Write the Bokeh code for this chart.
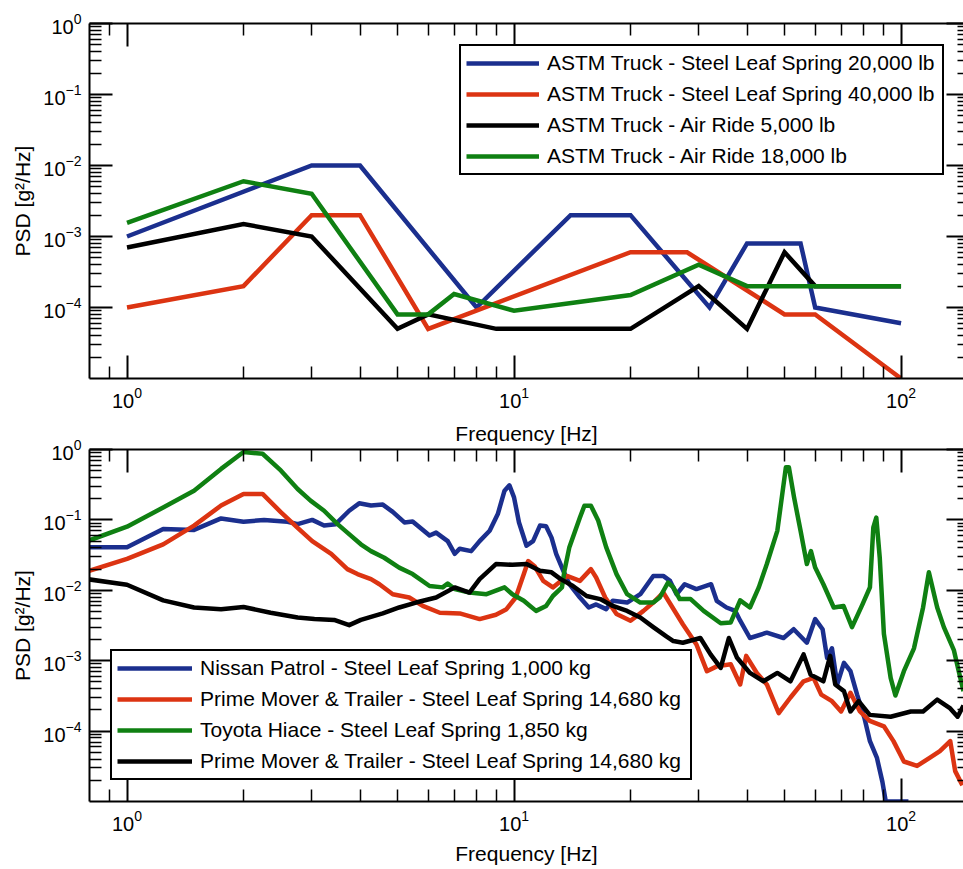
from bokeh.plotting import figure
from bokeh.models import (Range1d, FixedTicker, LogAxis, Legend, LegendItem,
                          CustomJSTickFormatter, Title)
from bokeh.layouts import column
from bokeh.embed import file_html
from bokeh.resources import INLINE

# ---------------- axis configuration ----------------
X_START, X_END = 0.8, 145
Y_START, Y_END = 1e-5, 1
X_MAJOR = [1, 10, 100]
X_MINOR = [0.9, 2, 3, 4, 5, 6, 7, 8, 9, 20, 30, 40, 50, 60, 70, 80, 90]
Y_MAJOR = [1e-4, 1e-3, 1e-2, 1e-1, 1]
Y_MINOR = [m * 10.0 ** e for e in range(-5, 0) for m in range(2, 10)]
X_LABEL = "Frequency [Hz]"
Y_LABEL = "PSD [g\u00b2/Hz]"

# ---------------- top panel: ASTM truck spectra ----------------
astm_names = ["ASTM Truck - Steel Leaf Spring 20,000 lb",
              "ASTM Truck - Steel Leaf Spring 40,000 lb",
              "ASTM Truck - Air Ride 5,000 lb",
              "ASTM Truck - Air Ride 18,000 lb"]
astm_sl20_f = [1, 3, 4, 8, 14, 20, 32, 40, 55, 60, 100]
astm_sl20_psd = [1e-3, 1e-2, 1e-2, 1e-4, 2e-3, 2e-3, 1e-4, 8e-4, 8e-4, 1e-4, 6e-5]
astm_sl40_f = [1, 2, 3, 4, 6, 20, 28, 50, 60, 100]
astm_sl40_psd = [1e-4, 2e-4, 2e-3, 2e-3, 5e-5, 6e-4, 6e-4, 8e-5, 8e-5, 1e-5]
astm_ar5_f = [1, 2, 3, 5, 6, 9, 20, 30, 40, 50, 60, 100]
astm_ar5_psd = [7e-4, 1.5e-3, 1e-3, 5e-5, 8e-5, 5e-5, 5e-5, 2e-4, 5e-5, 6e-4, 2e-4, 2e-4]
astm_ar18_f = [1, 2, 3, 5, 6, 7, 10, 20, 30, 40, 100]
astm_ar18_psd = [1.55e-3, 6e-3, 4e-3, 8e-5, 8e-5, 1.55e-4, 9e-5, 1.5e-4, 4e-4, 2e-4, 2e-4]

# ---------------- bottom panel: measured vehicle spectra ----------------
veh_names = ["Nissan Patrol - Steel Leaf Spring 1,000 kg",
             "Prime Mover & Trailer - Steel Leaf Spring 14,680 kg",
             "Toyota Hiace - Steel Leaf Spring 1,850 kg",
             "Prime Mover & Trailer - Steel Leaf Spring 14,680 kg"]

nissan_f = [0.79, 1.0, 1.24, 1.49, 1.75, 2.0, 2.26, 2.6, 2.76, 3.01, 3.23, 3.46, 3.75,
            3.98, 4.27, 4.58, 4.86, 5.21, 5.47, 6.05, 6.29, 6.74, 7.03, 7.24, 7.75, 8.15,
            8.65, 9.08, 9.45, 9.73, 10.0, 10.3, 10.77, 11.2, 11.67, 12.1, 12.5, 12.85,
            13.4, 13.9, 14.8, 15.6, 16.3, 17.3, 18.0, 19.6, 21.2, 22.9, 24.3, 25.3, 26.3,
            27.6, 29.6, 32.3, 33.4, 35.4, 37.3, 38.4, 40.7, 45.0, 49.7, 52.8, 57.1, 60.0,
            62.7, 64.4, 66.3, 68.4, 71.2, 74.0, 77.0, 80.4, 83.1, 86.6, 89.5, 91.3, 104.5]
nissan_psd = [0.041, 0.041, 0.074, 0.072, 0.105, 0.094, 0.1, 0.094, 0.087, 0.1, 0.083,
              0.087, 0.135, 0.172, 0.16, 0.165, 0.13, 0.092, 0.095, 0.06, 0.066, 0.05,
              0.033, 0.039, 0.036, 0.05, 0.07, 0.121, 0.26, 0.31, 0.209, 0.092, 0.043,
              0.05, 0.083, 0.081, 0.056, 0.033, 0.019, 0.0122, 0.0079, 0.0057, 0.0063,
              0.0054, 0.0071, 0.0067, 0.0088, 0.016, 0.016, 0.0136, 0.0088, 0.0122,
              0.0104, 0.0122, 0.0071, 0.0057, 0.0051, 0.0037, 0.0021, 0.0025, 0.0021,
              0.0028, 0.0018, 0.0039, 0.0028, 0.0011, 0.0015, 4.6e-4, 9.3e-4, 7.1e-4,
              3.3e-4, 1.55e-4, 7.2e-5, 4.2e-5, 1.9e-5, 1e-5, 1e-5]

prime1_f = [0.79, 1.0, 1.24, 1.49, 1.75, 2.0, 2.24, 2.5, 2.76, 3.01, 3.37, 3.71, 3.94,
            4.27, 4.49, 4.86, 5.36, 5.81, 6.43, 7.24, 8.15, 8.98, 9.56, 10.1, 10.6, 10.88,
            11.3, 11.9, 12.6, 13.7, 14.8, 15.8, 16.3, 17.2, 18.4, 20.0, 21.6, 22.9, 24.3,
            25.3, 27.3, 29.6, 31.5, 33.4, 36.3, 38.4, 39.8, 42.4, 45.0, 48.3, 51.8, 56.0,
            59.4, 62.2, 66.3, 70.0, 74.0, 78.3, 83.0, 90.3, 95.6, 101.7, 110, 118.8, 126,
            134, 138, 144]
prime1_psd = [0.0185, 0.028, 0.045, 0.083, 0.16, 0.234, 0.234, 0.128, 0.077, 0.05, 0.033,
              0.020, 0.017, 0.0144, 0.0122, 0.0088, 0.0079, 0.006, 0.0048, 0.0047, 0.0039,
              0.0045, 0.0054, 0.0079, 0.017, 0.026, 0.022, 0.0136, 0.011, 0.016, 0.0136,
              0.02, 0.0152, 0.0079, 0.0046, 0.0037, 0.0051, 0.0067, 0.0093, 0.0065, 0.0033,
              0.0017, 7.1e-4, 8.3e-4, 8.9e-4, 4.6e-4, 1.17e-3, 6.7e-4, 4.6e-4, 1.8e-4,
              3e-4, 5.1e-4, 5.7e-4, 3.3e-4, 2.66e-4, 1.9e-4, 3.5e-4, 1.9e-4, 1.4e-4,
              1.17e-4, 7.2e-5, 3.7e-5, 3.2e-5, 4.2e-5, 5.2e-5, 7.2e-5, 2.7e-5, 1.7e-5]

hiace_f = [0.79, 1.0, 1.24, 1.49, 1.75, 2.0, 2.24, 2.5, 2.76, 2.98, 3.23, 3.5, 3.71, 4.02,
           4.27, 4.62, 5.05, 5.47, 6.05, 6.54, 6.74, 7.03, 7.67, 8.49, 9.45, 9.9, 10.6,
           11.0, 11.4, 12.1, 12.6, 13.3, 13.5, 13.9, 14.8, 15.2, 15.8, 16.5, 17.3, 18.4,
           19.6, 21.2, 22.9, 23.8, 25.0, 25.8, 26.8, 28.6, 30.9, 34.2, 36.3, 38.4, 40.7,
           42.9, 45.0, 47.9, 50.4, 51.3, 52.9, 55.0, 57.1, 58.5, 60.0, 63.0, 67.0, 71.0,
           74.7, 79.5, 83.1, 84.8, 86.3, 88.1, 90.3, 94.0, 96.7, 101.7, 108, 114, 118,
           124, 129, 137, 141, 145]
hiace_psd = [0.05, 0.08, 0.15, 0.26, 0.53, 0.92, 0.87, 0.50, 0.275, 0.188, 0.135, 0.087,
             0.066, 0.045, 0.036, 0.029, 0.021, 0.017, 0.0115, 0.011, 0.0125, 0.0104,
             0.0093, 0.0088, 0.011, 0.0088, 0.0071, 0.006, 0.0051, 0.006, 0.0083, 0.011,
             0.019, 0.041, 0.108, 0.159, 0.159, 0.098, 0.041, 0.017, 0.0088, 0.0067,
             0.0067, 0.0079, 0.0129, 0.011, 0.0075, 0.0075, 0.0051, 0.0034, 0.0035,
             0.0072, 0.0057, 0.011, 0.0236, 0.07, 0.56, 0.56, 0.21, 0.07, 0.0236, 0.036,
             0.021, 0.0122, 0.0057, 0.006, 0.003, 0.0063, 0.011, 0.078, 0.108, 0.029,
             0.0024, 5.7e-4, 3.2e-4, 7.1e-4, 1.5e-3, 0.0057, 0.018, 0.0057, 0.003,
             1.4e-3, 7e-4, 3.7e-4]

prime2_f = [0.79, 1.0, 1.24, 1.49, 1.75, 2.0, 2.35, 2.76, 3.05, 3.43, 3.75, 4.02, 4.27,
            4.58, 5.05, 5.58, 6.29, 7.03, 7.67, 8.15, 8.98, 9.9, 10.77, 11.67, 12.5, 13.2,
            14.2, 15.4, 16.7, 18.0, 19.6, 21.2, 22.9, 24.8, 25.8, 27.3, 30.3, 32.2, 34.2,
            35.9, 37.7, 40.7, 44.1, 47.9, 51.8, 56.0, 58.4, 63.0, 65.6, 67.6, 71.2, 74.0,
            77.7, 83.0, 94.0, 106, 114, 124, 134, 140, 145]
prime2_psd = [0.0144, 0.012, 0.0072, 0.0057, 0.0054, 0.0058, 0.0048, 0.0041, 0.0039,
              0.0038, 0.0032, 0.0038, 0.0042, 0.0047, 0.0057, 0.0067, 0.0079, 0.011,
              0.0093, 0.0144, 0.0236, 0.023, 0.0236, 0.019, 0.018, 0.0144, 0.0115, 0.0083,
              0.0075, 0.006, 0.0051, 0.0041, 0.0030, 0.0022, 0.0019, 0.0018, 0.0021,
              1.23e-3, 7.9e-4, 0.0021, 1.1e-3, 6.7e-4, 5.1e-4, 6.7e-4, 5.1e-4, 1.23e-3,
              6.3e-4, 5.1e-4, 1.17e-3, 4.6e-4, 3.7e-4, 1.9e-4, 2.66e-4, 1.7e-4, 1.6e-4,
              1.9e-4, 1.9e-4, 2.8e-4, 2.1e-4, 1.6e-4, 2.3e-4]

BLUE = "#1b2f8e"
RED = "#dc3412"
GREEN = "#0f8012"
BLACK = "#000000"
FONT = "Liberation Sans"


def style_axis(ax, labels=True):
    ax.axis_line_width = 2
    ax.axis_line_color = "black"
    ax.major_tick_in = 23
    ax.major_tick_out = 0
    ax.minor_tick_in = 12
    ax.minor_tick_out = 0
    ax.major_tick_line_width = 2
    ax.minor_tick_line_width = 1.5
    ax.major_tick_line_color = "black"
    ax.minor_tick_line_color = "black"
    if labels:
        ax.major_label_text_font = FONT
        ax.major_label_text_font_size = "20px"
        ax.major_label_text_color = "black"
        ax.axis_label_text_font = FONT
        ax.axis_label_text_font_size = "21px"
        ax.axis_label_text_font_style = "normal"
        ax.axis_label_text_color = "black"
    else:
        ax.formatter = CustomJSTickFormatter(code="return ''")
        ax.major_label_text_font_size = "1px"
        ax.major_label_standoff = 0


def make_fig(top_border, frame_h, bottom_border, xlabel):
    p = figure(x_axis_type="log", y_axis_type="log",
               x_range=Range1d(X_START, X_END), y_range=Range1d(Y_START, Y_END),
               frame_width=874, frame_height=frame_h,
               min_border_left=89, min_border_right=0,
               min_border_top=top_border, min_border_bottom=bottom_border,
               output_backend="svg", toolbar_location=None,
               background_fill_color="white", border_fill_color="white",
               outline_line_color=None)
    p.xgrid.visible = False
    p.ygrid.visible = False
    xt = FixedTicker(ticks=X_MAJOR, minor_ticks=X_MINOR)
    yt = FixedTicker(ticks=Y_MAJOR, minor_ticks=Y_MINOR)
    xa = p.xaxis[0]
    ya = p.yaxis[0]
    xa.ticker = xt
    ya.ticker = yt
    style_axis(xa)
    style_axis(ya)
    if xlabel:
        xa.axis_label = X_LABEL
    ya.axis_label = Y_LABEL
    xa.major_label_standoff = 8
    ya.major_label_standoff = 8
    xa.axis_label_standoff = 8
    ya.axis_label_standoff = 6
    top = LogAxis(ticker=xt)
    style_axis(top, labels=False)
    p.add_layout(top, "above")
    right = LogAxis(ticker=yt)
    style_axis(right, labels=False)
    right.axis_line_color = None
    right.major_tick_in = 17
    right.minor_tick_in = 6
    p.add_layout(right, "right")
    return p


def add_legend(p, items, loc, gw, lw):
    lg = Legend(items=items, location=loc,
                border_line_color="black", border_line_width=2, border_line_alpha=1.0,
                background_fill_color="white", background_fill_alpha=1.0,
                label_text_font=FONT, label_text_font_size="21px",
                label_text_color="black",
                glyph_width=gw, glyph_height=22, label_height=22, label_width=lw,
                label_standoff=8, padding=5, spacing=7, margin=0)
    p.add_layout(lg)


# ---- top ----
p1 = make_fig(23, 355, 34, False)
top_series = [(astm_sl20_f, astm_sl20_psd, BLUE),
              (astm_sl40_f, astm_sl40_psd, RED),
              (astm_ar5_f, astm_ar5_psd, BLACK),
              (astm_ar18_f, astm_ar18_psd, GREEN)]
items1 = []
for (f, v, c), name in zip(top_series, astm_names):
    r = p1.line(f, v, line_color=c, line_width=4.5, line_join="miter")
    items1.append(LegendItem(label=name, renderers=[r]))
add_legend(p1, items1, (370, 203), 73, 390)

# ---- bottom ----
p2 = make_fig(37, 352, 68, True)
# x-axis caption of the upper panel (placed here so it is not clipped)
p2.title = Title(text=X_LABEL, align="center", text_font=FONT, text_font_size="21px",
                 text_font_style="normal", text_color="black", standoff=10, offset=0)
bot_series = [(nissan_f, nissan_psd, BLUE),
              (prime1_f, prime1_psd, RED),
              (hiace_f, hiace_psd, GREEN),
              (prime2_f, prime2_psd, BLACK)]
items2 = []
for (f, v, c), name in zip(bot_series, veh_names):
    r = p2.line(f, v, line_color=c, line_width=4.5, line_join="round")
    items2.append(LegendItem(label=name, renderers=[r]))
add_legend(p2, items2, (21, 21), 75, 485)

layout = column(p1, p2, spacing=0)
open("out.html", "w").write(file_html(layout, INLINE))
